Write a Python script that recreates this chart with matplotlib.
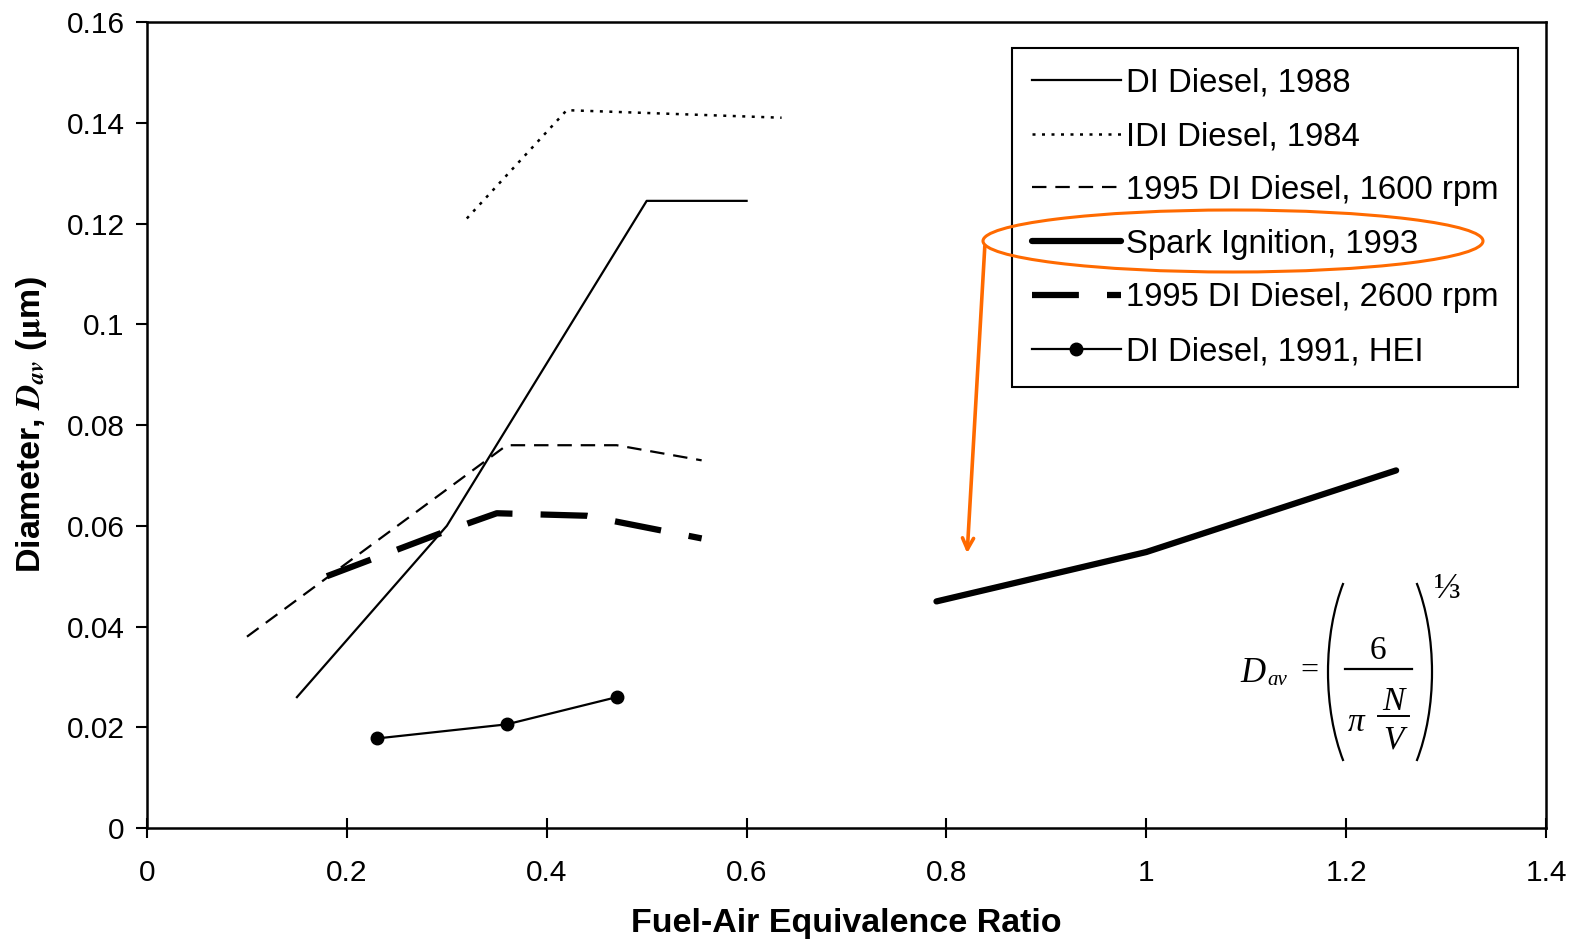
import matplotlib
matplotlib.use("Agg")
import matplotlib.pyplot as plt
from matplotlib.patches import Ellipse, Arc
import math

plt.rcParams['font.family'] = ['Liberation Sans', 'DejaVu Sans']
plt.rcParams['mathtext.fontset'] = 'stix'

# Data
di88_x = [0.15, 0.30, 0.50, 0.60]
di88_y = [0.026, 0.060, 0.1245, 0.1245]
idi84_x = [0.32, 0.42, 0.635]
idi84_y = [0.121, 0.1425, 0.141]
di95_1600_x = [0.10, 0.36, 0.47, 0.555]
di95_1600_y = [0.038, 0.076, 0.076, 0.073]
si93_x = [0.79, 1.00, 1.25]
si93_y = [0.045, 0.0548, 0.071]
di95_2600_x = [0.18, 0.30, 0.35, 0.44, 0.555]
di95_2600_y = [0.050, 0.059, 0.0625, 0.062, 0.0575]
hei91_x = [0.23, 0.36, 0.47]
hei91_y = [0.0178, 0.0206, 0.026]

labels = ["DI Diesel, 1988", "IDI Diesel, 1984", "1995 DI Diesel, 1600 rpm",
          "Spark Ignition, 1993", "1995 DI Diesel, 2600 rpm", "DI Diesel, 1991, HEI"]
xticks = [0, 0.2, 0.4, 0.6, 0.8, 1, 1.2, 1.4]
xticklabels = ["0", "0.2", "0.4", "0.6", "0.8", "1", "1.2", "1.4"]
yticks = [0, 0.02, 0.04, 0.06, 0.08, 0.1, 0.12, 0.14, 0.16]
yticklabels = ["0", "0.02", "0.04", "0.06", "0.08", "0.1", "0.12", "0.14", "0.16"]

W, H = 1571, 940
fig = plt.figure(figsize=(W / 100, H / 100), dpi=100)
ax = fig.add_axes([0.0936, 0.119, 0.8905, 0.8576])

l1, = ax.plot(di88_x, di88_y, color='black', lw=1.6, label=labels[0])
l2, = ax.plot(idi84_x, idi84_y, color='black', lw=1.8, linestyle=(0, (1.2, 2.6)), label=labels[1])
l3, = ax.plot(di95_1600_x, di95_1600_y, color='black', lw=1.6, linestyle=(0, (6.5, 4.0)), label=labels[2])
l4, = ax.plot(si93_x, si93_y, color='black', lw=4.5, solid_capstyle='round', label=labels[3])
l5, = ax.plot(di95_2600_x, di95_2600_y, color='black', lw=4.5, linestyle=(0, (7.5, 4.5)), label=labels[4])
l6, = ax.plot(hei91_x, hei91_y, color='black', lw=1.6, marker='o', markersize=9, label=labels[5])

ax.set_xlim(0, 1.4)
ax.set_ylim(0, 0.16)
ax.set_xticks(xticks)
ax.set_xticklabels(xticklabels)
ax.set_yticks(yticks)
ax.set_yticklabels(yticklabels)
ax.tick_params(axis='both', labelsize=21.5, width=1.5, color='black')
ax.tick_params(axis='x', direction='inout', length=14, pad=15)
ax.tick_params(axis='y', direction='out', length=8, pad=8)
for s in ax.spines.values():
    s.set_linewidth(1.8)

ax.set_xlabel("Fuel-Air Equivalence Ratio", fontsize=24.5, fontweight='bold', labelpad=15)
ax.set_ylabel(r"Diameter, $\boldsymbol{D}_{\boldsymbol{av}}$ ($\mathbf{\mu}$m)", fontsize=24.5,
              fontweight='bold', labelpad=13)

leg = ax.legend(handles=[l1, l2, l3, l4, l5, l6], loc='upper right',
                bbox_to_anchor=(0.98, 0.968), borderaxespad=0, fontsize=23.7,
                handlelength=2.7, handletextpad=0.15, labelspacing=0.69,
                borderpad=0.6, fancybox=False, framealpha=1, edgecolor='black')
leg.get_frame().set_linewidth(1.5)

# Overlay in pixel coordinates for formula and annotation
ov = fig.add_axes([0, 0, 1, 1], facecolor='none')
ov.set_xlim(0, W)
ov.set_ylim(H, 0)
ov.axis('off')

serif = ['Liberation Serif', 'DejaVu Serif']
ov.text(1253, 669, "D", fontsize=25, style='italic', family=serif, ha='center', va='center_baseline')
ov.text(1277, 678, "av", fontsize=15, style='italic', family=serif, ha='center', va='center_baseline')
ov.text(1309, 668, "=", fontsize=23, family=serif, ha='center', va='center_baseline')
ov.text(1378, 647, "6", fontsize=24, family=serif, ha='center', va='center_baseline')
ov.plot([1345, 1412], [669, 669], color='black', lw=1.6)
ov.text(1356, 719, "π", fontsize=24, style='italic', family=serif, ha='center', va='center_baseline')
ov.text(1393, 698, "N", fontsize=24, style='italic', family=serif, ha='center', va='center_baseline')
ov.plot([1378, 1409], [716, 716], color='black', lw=1.4)
ov.text(1393, 737, "V", fontsize=24, style='italic', family=serif, ha='center', va='center_baseline')
ov.text(1447, 586, "⅓", fontsize=26, family=serif, ha='center', va='center_baseline')

# parentheses as elliptical arcs (polar angles)
a, b = 73.0, 145.0
half = 89.0
t = math.asin(half / b)
phi = math.degrees(math.atan2(half, a * math.cos(t)))
ov.add_patch(Arc((1328 + a, 672), 2 * a, 2 * b, theta1=180 - phi, theta2=180 + phi, color='black', lw=1.6))
ov.add_patch(Arc((1432 - a, 672), 2 * a, 2 * b, theta1=-phi, theta2=phi, color='black', lw=1.6))

orange = '#FF6A00'
ov.add_patch(Ellipse((1233, 241), 500, 62, fill=False, edgecolor=orange, lw=2.2))
ov.annotate("", xy=(967, 556), xytext=(985, 243),
            arrowprops=dict(arrowstyle='->,head_length=0.8,head_width=0.4', color=orange, lw=2.6))

fig.savefig("out.png", dpi=100)
